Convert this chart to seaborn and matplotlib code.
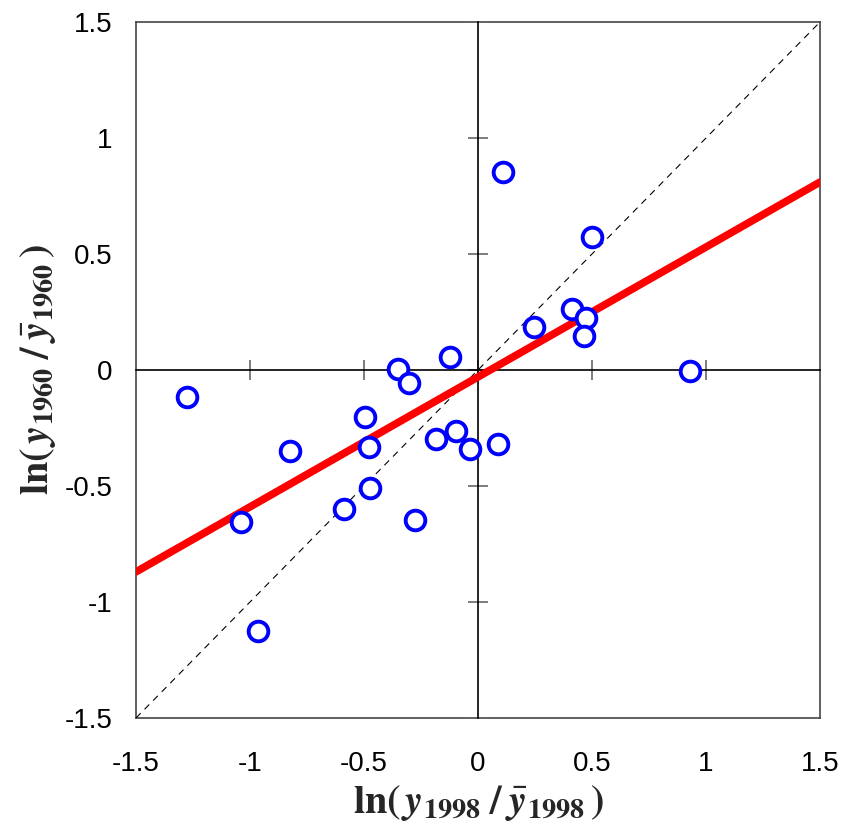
import matplotlib
matplotlib.use("Agg")
import matplotlib.pyplot as plt
import seaborn as sns
import pandas as pd

# log income relative to the mean, 1998 vs 1960
x_1998 = [-1.276, -1.04, -0.965, -0.825, -0.588, -0.496, -0.478, -0.474,
          -0.351, -0.303, -0.276, -0.184, -0.123, -0.096, -0.035, 0.088,
          0.110, 0.246, 0.412, 0.474, 0.465, 0.50, 0.93]
y_1960 = [-0.116, -0.655, -1.125, -0.35, -0.60, -0.203, -0.332, -0.509,
          0.004, -0.056, -0.647, -0.297, 0.056, -0.263, -0.341, -0.319,
          0.853, 0.185, 0.263, 0.224, 0.147, 0.573, -0.004]

fit_x = [-1.5, 1.5]
fit_y = [-0.87, 0.81]
diag = [-1.5, 1.5]

ticks = [-1.5, -1, -0.5, 0, 0.5, 1, 1.5]
tick_labels = ["-1.5", "-1", "-0.5", "0", "0.5", "1", "1.5"]

df = pd.DataFrame({"x": x_1998, "y": y_1960})

sns.set_style("white")
plt.rcParams["font.family"] = ["Liberation Sans", "DejaVu Sans"]
plt.rcParams["mathtext.fontset"] = "stix"

fig = plt.figure(figsize=(8.47, 8.32), dpi=100)
rect = [136 / 847, 1 - 718 / 832, (820 - 136) / 847, (718 - 22) / 832]

# outer box carrying the tick labels
frame = fig.add_axes(rect)
frame.set_xlim(-1.5, 1.5)
frame.set_ylim(-1.5, 1.5)
frame.set_xticks(ticks)
frame.set_xticklabels(tick_labels)
frame.set_yticks(ticks)
frame.set_yticklabels(tick_labels)
frame.tick_params(length=0, labelsize=20, colors="black")
frame.tick_params(axis="x", pad=24)
frame.tick_params(axis="y", pad=17)
for s in frame.spines.values():
    s.set_color("#444444")
    s.set_linewidth(1.2)
frame.set_xlabel(r"$\mathbf{ln(}\,\mathbfit{y}_{\mathbf{1998}}\;\mathbf{/}\;\bar{\mathbfit{y}}_{\mathbf{1998}}\,\mathbf{)}$",
                 fontsize=29, labelpad=4)
frame.set_ylabel(r"$\mathbf{ln(}\,\mathbfit{y}_{\mathbf{1960}}\;\mathbf{/}\;\bar{\mathbfit{y}}_{\mathbf{1960}}\,\mathbf{)}$",
                 fontsize=29, labelpad=5)

# axes crossing at the origin
ax = fig.add_axes(rect, sharex=frame, sharey=frame)
ax.patch.set_visible(False)
ax.spines["top"].set_visible(False)
ax.spines["right"].set_visible(False)
ax.spines["left"].set_position(("data", 0))
ax.spines["bottom"].set_position(("data", 0))
for side in ["left", "bottom"]:
    ax.spines[side].set_color("black")
    ax.spines[side].set_linewidth(1.2)
ax.tick_params(bottom=True, left=True, direction="inout", length=14,
               width=1.2, color="#666666", labelbottom=False, labelleft=False)

ax.plot(diag, diag, color="black", lw=0.8, ls=(0, (6, 5)), zorder=2)
sns.lineplot(x=fit_x, y=fit_y, ax=ax, color="red", lw=5.5, zorder=3)
sns.scatterplot(data=df, x="x", y="y", ax=ax, s=200, facecolor="white",
                edgecolor="blue", linewidth=2.8, zorder=4)
ax.set_xlabel("")
ax.set_ylabel("")
ax.set_xlim(-1.5, 1.5)
ax.set_ylim(-1.5, 1.5)

fig.savefig("out.png", dpi=100)
